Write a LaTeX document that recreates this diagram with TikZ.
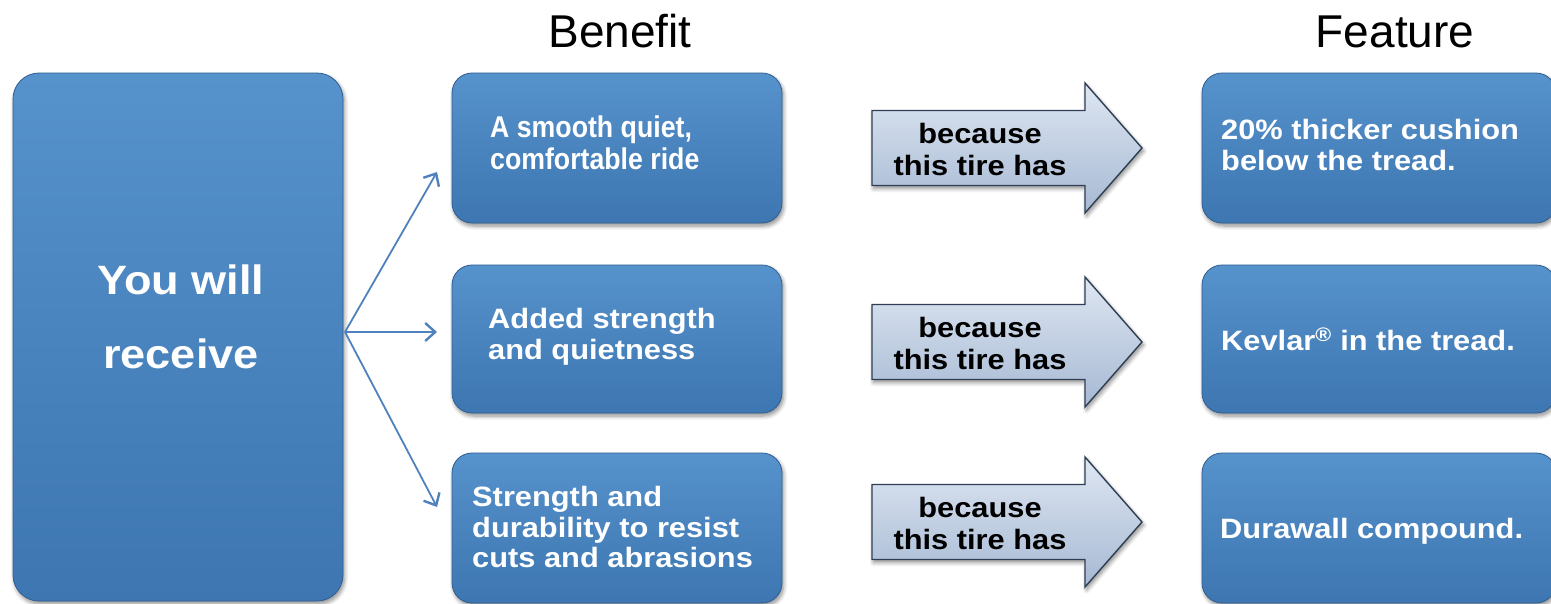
\documentclass[tikz,border=0pt]{standalone}
\usepackage{fontspec}
\setmainfont{Liberation Sans}
\newfontfamily\widefont[FakeStretch=1.1]{Liberation Sans}
\newfontfamily\slimfont[FakeStretch=0.89]{Liberation Sans}
\usetikzlibrary{arrows.meta,shadows.blur}

\definecolor{boxtop}{HTML}{5692CC}
\definecolor{boxbot}{HTML}{3D76B0}
\definecolor{boxedge}{HTML}{2F5F93}
\definecolor{arrtop}{HTML}{DEE6F2}
\definecolor{arrbot}{HTML}{A6B9D3}
\definecolor{arredge}{HTML}{2E3F55}
\definecolor{linkblue}{HTML}{4F81BD}

\tikzset{
  softshadow/.style={blur shadow={shadow xshift=1.5pt, shadow yshift=-3pt,
      shadow opacity=45, shadow blur radius=4pt, shadow blur steps=6}},
  panel/.style={rounded corners=20pt, top color=boxtop, bottom color=boxbot,
      draw=boxedge, line width=0.8pt, softshadow, inner sep=0pt},
  bigpanel/.style={panel, rounded corners=26pt},
  boxtext/.style={text=white, align=left, inner sep=0pt,
      font=\widefont\bfseries\fontsize{28}{30.5}\selectfont},
  slimtext/.style={boxtext, font=\slimfont\bfseries\fontsize{30}{32}\selectfont},
  bigtext/.style={text=white, align=center, inner sep=0pt,
      font=\widefont\bfseries\fontsize{41}{74}\selectfont},
  whytext/.style={text=black, align=center, inner sep=0pt,
      font=\widefont\bfseries\fontsize{28}{32}\selectfont},
  arrowbody/.style={top color=arrtop, bottom color=arrbot, draw=arredge,
      line width=1.4pt, line join=miter, softshadow},
  heading/.style={text=black, inner sep=0pt, font=\fontsize{46}{50}\selectfont},
  link/.style={draw=linkblue, line width=1.8pt,
      -{Straight Barb[length=10pt,width=18pt,line width=2.4pt]}},
}

\begin{document}
\begin{tikzpicture}[x=1pt, y=-1pt]
  \useasboundingbox (0,0) rectangle (1551,603);

  % column headings
  \node[heading, anchor=base] (hbenefit) at (620,47) {Benefit};
  \node[heading, anchor=base] (hfeature) at (1395,47) {Feature};

  % left panel
  \node[bigpanel, minimum width=330pt, minimum height=528pt] (recv) at (178,337) {};
  \node[bigtext] (recvtext) at (181,317) {You will\\receive};

  % benefit panels
  \node[panel, minimum width=330pt, minimum height=150pt] (ben1) at (617,148) {};
  \node[panel, minimum width=330pt, minimum height=148pt] (ben2) at (617,339) {};
  \node[panel, minimum width=330pt, minimum height=150pt] (ben3) at (617,528) {};
  \node[slimtext, anchor=west] (ben1text) at (490,143) {A smooth quiet,\\comfortable ride};
  \node[boxtext, anchor=west] (ben2text) at (488,337) {Added strength\\and quietness};
  \node[boxtext, anchor=west] (ben3text) at (472,527) {Strength and\\durability to resist\\cuts and abrasions};

  % feature panels
  \node[panel, minimum width=354pt, minimum height=150pt] (feat1) at (1379,148) {};
  \node[panel, minimum width=354pt, minimum height=148pt] (feat2) at (1379,339) {};
  \node[panel, minimum width=354pt, minimum height=150pt] (feat3) at (1379,528) {};
  \node[boxtext, anchor=west] (feat1text) at (1221,145) {20\% thicker cushion\\below the tread.};
  \node[boxtext, anchor=west] (feat2text) at (1221,339) {Kevlar\textsuperscript{®} in the tread.};
  \node[boxtext, anchor=west] (feat3text) at (1220,531) {Durawall compound.};

  % "because" block arrows
  \foreach \i/\yc in {1/148, 2/342, 3/522} {
    \path[arrowbody] (872,\yc-37.5) -- (1085,\yc-37.5) -- (1085,\yc-65)
      -- (1142,\yc) -- (1085,\yc+65) -- (1085,\yc+37.5) -- (872,\yc+37.5) -- cycle;
    \node[whytext] (why\i) at (980,\yc+1) {because\\this tire has};
  }

  % fan of connectors from the left panel
  \coordinate (fork) at (345,332);
  \coordinate (tip1) at (437,172);
  \coordinate (tip2) at (437,332);
  \coordinate (tip3) at (437,507);
  \draw[link] (fork) -- (tip1);
  \draw[link] (fork) -- (tip2);
  \draw[link] (fork) -- (tip3);
\end{tikzpicture}
\end{document}
